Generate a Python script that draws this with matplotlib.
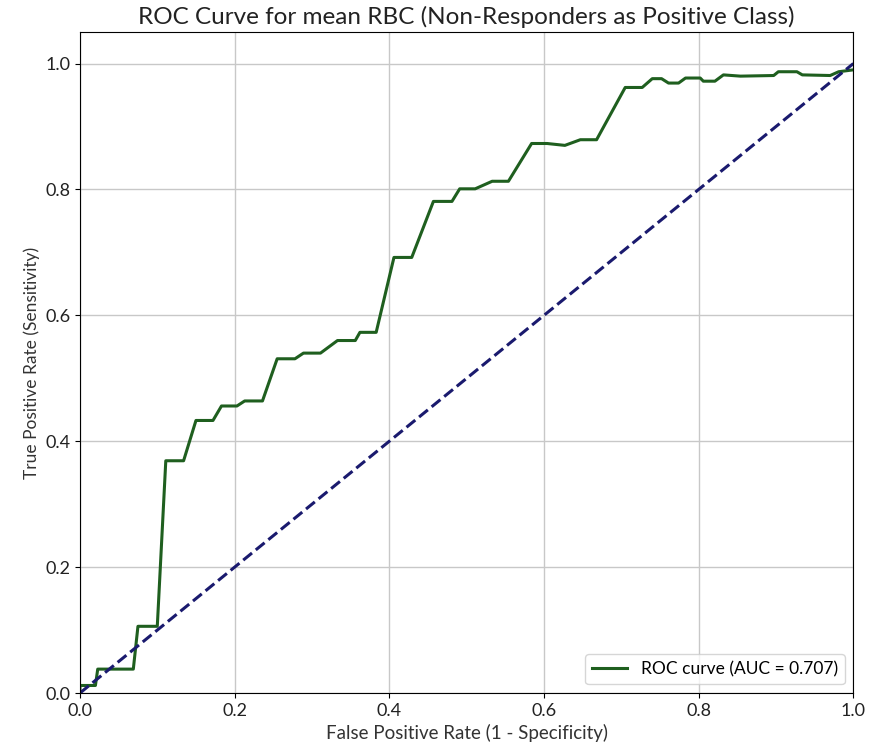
import matplotlib
matplotlib.use('agg')
import matplotlib.pyplot as plt

plt.rcParams['font.family'] = ['Lato', 'DejaVu Sans']

# ROC curve points
fpr = [0.0, 0.0, 0.02, 0.023, 0.069, 0.075, 0.10, 0.111, 0.134, 0.150, 0.172,
       0.183, 0.203, 0.213, 0.236, 0.255, 0.278, 0.289, 0.311, 0.333, 0.356,
       0.362, 0.383, 0.406, 0.429, 0.457, 0.481, 0.491, 0.511, 0.533, 0.554,
       0.584, 0.604, 0.627, 0.647, 0.668, 0.705, 0.727, 0.740, 0.752, 0.761,
       0.774, 0.783, 0.802, 0.806, 0.821, 0.832, 0.854, 0.897, 0.903, 0.927,
       0.934, 0.970, 0.981, 1.0]
tpr = [0.0, 0.012, 0.012, 0.038, 0.038, 0.106, 0.106, 0.369, 0.369, 0.433, 0.433,
       0.456, 0.456, 0.464, 0.464, 0.531, 0.531, 0.540, 0.540, 0.560, 0.560,
       0.573, 0.573, 0.692, 0.692, 0.781, 0.781, 0.801, 0.801, 0.813, 0.813,
       0.873, 0.873, 0.870, 0.879, 0.879, 0.962, 0.962, 0.976, 0.976, 0.969,
       0.969, 0.977, 0.977, 0.972, 0.972, 0.982, 0.980, 0.981, 0.987, 0.987,
       0.982, 0.981, 0.987, 0.990]
auc_value = 0.707

fig = plt.figure(figsize=[8.69, 7.46], dpi=100)
ax = fig.add_axes([0.092, 0.071, 0.89, 0.886])

ax.plot(fpr, tpr, color='#1f5f1f', lw=2.2, label='ROC curve (AUC = %.3f)' % auc_value)
ax.plot([0, 1], [0, 1], color='#1a1a6e', lw=2.2, linestyle='--')

ax.set_xlim([0.0, 1.0])
ax.set_ylim([0.0, 1.05])
ax.set_xlabel('False Positive Rate (1 - Specificity)', fontsize=13.5, color='#333333')
ax.set_ylabel('True Positive Rate (Sensitivity)', fontsize=12.5, color='#333333')
ax.set_title('ROC Curve for mean RBC (Non-Responders as Positive Class)', fontsize=17.5, color='#222222')
ax.tick_params(labelsize=13, labelcolor='#222222')
ax.grid(True, color='#c8c8c8', lw=1)
ax.legend(loc='lower right', fontsize=12.5)

fig.savefig('out.png', dpi=100)
